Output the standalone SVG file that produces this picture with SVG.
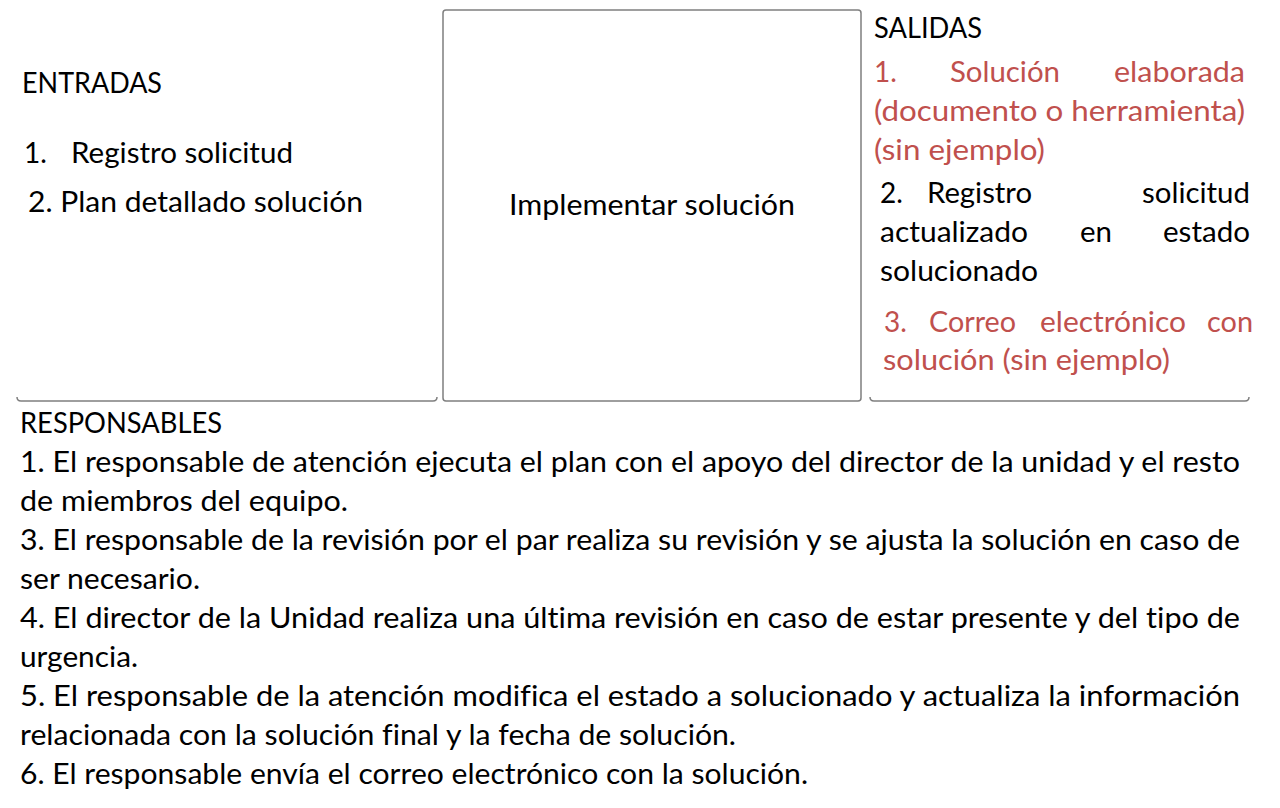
<svg xmlns="http://www.w3.org/2000/svg" width="1280" height="808" viewBox="0 0 1280 808">
<style>
text{font-family:Lato,"Open Sans","Liberation Sans",sans-serif;font-size:28px;fill:#000;font-variant-ligatures:none;font-feature-settings:"liga" 0,"clig" 0}
.r{fill:#C0504D}
.box{fill:#fff;stroke:#7f7f7f;stroke-width:1.5}
.edge{fill:none;stroke:#7f7f7f;stroke-width:1.5}
</style>
<rect width="1280" height="808" fill="#fff"/>
<g id="entradas">
<path class="edge" d="M17,397 Q17,401 21,401 H433 Q437,401 437,397"/>
<text x="22" y="93" textLength="140" lengthAdjust="spacingAndGlyphs">ENTRADAS</text>
<text x="24" y="163">1.</text>
<text x="71" y="163" textLength="222" lengthAdjust="spacingAndGlyphs">Registro solicitud</text>
<text x="28" y="212" textLength="335" lengthAdjust="spacingAndGlyphs">2. Plan detallado solución</text>
</g>
<g id="proceso">
<rect class="box" x="443" y="10" width="418" height="391" rx="3"/>
<text x="509" y="215" textLength="286" lengthAdjust="spacingAndGlyphs">Implementar solución</text>
</g>
<g id="salidas">
<path class="edge" d="M870,397 Q870,401 874,401 H1245 Q1249,401 1249,397"/>
<text x="874" y="38" textLength="108" lengthAdjust="spacingAndGlyphs">SALIDAS</text>
<text class="r" x="874" y="82">1.</text>
<text class="r" x="950" y="82" textLength="110" lengthAdjust="spacingAndGlyphs">Solución</text>
<text class="r" x="1114" y="82" textLength="131" lengthAdjust="spacingAndGlyphs">elaborada</text>
<text class="r" x="874" y="121" textLength="371" lengthAdjust="spacingAndGlyphs">(documento o herramienta)</text>
<text class="r" x="874" y="160" textLength="171" lengthAdjust="spacingAndGlyphs">(sin ejemplo)</text>
<text x="880" y="203">2.</text>
<text x="927" y="203" textLength="105" lengthAdjust="spacingAndGlyphs">Registro</text>
<text x="1142" y="203" textLength="108" lengthAdjust="spacingAndGlyphs">solicitud</text>
<text x="880" y="242" textLength="148" lengthAdjust="spacingAndGlyphs">actualizado</text>
<text x="1080" y="242" textLength="32" lengthAdjust="spacingAndGlyphs">en</text>
<text x="1163" y="242" textLength="87" lengthAdjust="spacingAndGlyphs">estado</text>
<text x="880" y="281" textLength="158" lengthAdjust="spacingAndGlyphs">solucionado</text>
<text class="r" x="884" y="332">3.</text>
<text class="r" x="929" y="332" textLength="87" lengthAdjust="spacingAndGlyphs">Correo</text>
<text class="r" x="1040" y="332" textLength="146" lengthAdjust="spacingAndGlyphs">electrónico</text>
<text class="r" x="1207" y="332" textLength="46" lengthAdjust="spacingAndGlyphs">con</text>
<text class="r" x="883" y="370" textLength="287" lengthAdjust="spacingAndGlyphs">solución (sin ejemplo)</text>
</g>
<g id="responsables">
<text x="20" y="433" textLength="202" lengthAdjust="spacingAndGlyphs">RESPONSABLES</text>
<text x="20" y="472" textLength="1220" lengthAdjust="spacingAndGlyphs">1. El responsable de atención ejecuta el plan con el apoyo del director de la unidad y el resto</text>
<text x="20" y="511" textLength="328" lengthAdjust="spacingAndGlyphs">de miembros del equipo.</text>
<text x="20" y="550" textLength="1220" lengthAdjust="spacingAndGlyphs">3. El responsable de la revisión por el par realiza su revisión y se ajusta la solución en caso de</text>
<text x="20" y="589" textLength="180" lengthAdjust="spacingAndGlyphs">ser necesario.</text>
<text x="20" y="628" textLength="1220" lengthAdjust="spacingAndGlyphs">4. El director de la Unidad realiza una última revisión en caso de estar presente y del tipo de</text>
<text x="20" y="667" textLength="118" lengthAdjust="spacingAndGlyphs">urgencia.</text>
<text x="20" y="706" textLength="1220" lengthAdjust="spacingAndGlyphs">5. El responsable de la atención modifica el estado a solucionado y actualiza la información</text>
<text x="20" y="745" textLength="716" lengthAdjust="spacingAndGlyphs">relacionada con la solución final y la fecha de solución.</text>
<text x="20" y="784" textLength="788" lengthAdjust="spacingAndGlyphs">6. El responsable envía el correo electrónico con la solución.</text>
</g>
</svg>
